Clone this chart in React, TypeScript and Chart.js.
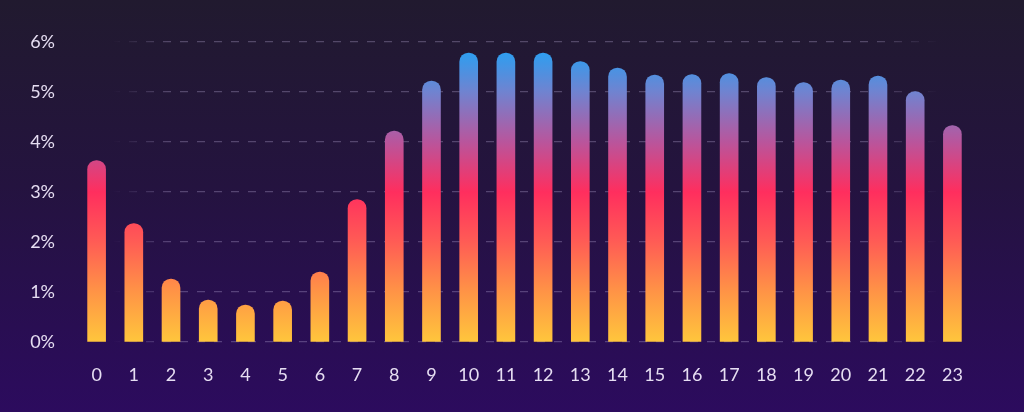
import { useEffect, useRef } from "react";
import Chart from "chart.js/auto";

const hours = ["0","1","2","3","4","5","6","7","8","9","10","11","12","13","14","15","16","17","18","19","20","21","22","23"];
const shares = [3.63, 2.37, 1.26, 0.84, 0.74, 0.82, 1.4, 2.85, 4.22, 5.22, 5.78, 5.78, 5.78, 5.61, 5.48, 5.34, 5.35, 5.37, 5.29, 5.19, 5.24, 5.32, 5.01, 4.33];
const yTicks = [0, 1, 2, 3, 4, 5, 6];

// colour stops for the bar fill, by value on the y axis
const stopValues = [0, 1, 2, 3.0, 4, 5, 5.8];
const stopColors = ["#ffc63c", "#ff9446", "#ff5c55", "#ff2e5e", "#b9559c", "#7083d0", "#2d9ef0"];

export default function App() {
    const chartRef = useRef<HTMLCanvasElement | null>(null);
    const chartInstanceRef = useRef<Chart | null>(null);

    useEffect(() => {
        if (chartInstanceRef.current) {
            chartInstanceRef.current.destroy();
        }
        if (!chartRef.current) return;

        const ctx = chartRef.current.getContext("2d");
        if (!ctx) return;

        const barFill = (context: any) => {
            const chart = context.chart;
            const area = chart.chartArea;
            if (!area) return stopColors[0];
            const y = chart.scales.y;
            const g = chart.ctx.createLinearGradient(0, y.getPixelForValue(0), 0, y.getPixelForValue(5.8));
            stopValues.forEach((v, i) => g.addColorStop(v / 5.8, stopColors[i]));
            return g;
        };

        const gridColor = (context: any) => {
            const chart = context.chart;
            const area = chart.chartArea;
            if (!area) return "rgba(200,180,230,0.3)";
            const g = chart.ctx.createLinearGradient(112, 0, 940, 0);
            g.addColorStop(0, "rgba(200,185,230,0)");
            g.addColorStop(0.07, "rgba(200,185,230,0.3)");
            g.addColorStop(0.92, "rgba(200,185,230,0.3)");
            g.addColorStop(1, "rgba(200,185,230,0)");
            return g;
        };

        chartInstanceRef.current = new Chart(ctx, {
            type: "bar",
            data: {
                labels: hours,
                datasets: [{
                    data: shares,
                    backgroundColor: barFill,
                    barThickness: 18,
                    borderRadius: { topLeft: 9, topRight: 9, bottomLeft: 0, bottomRight: 0 },
                    borderSkipped: false,
                }],
            },
            options: {
                animation: false,
                responsive: true,
                maintainAspectRatio: false,
                layout: { padding: { left: 0, right: 53, top: 42, bottom: 0 } },
                plugins: {
                    legend: { display: false },
                    tooltip: { enabled: false },
                },
                scales: {
                    x: {
                        grid: { display: false },
                        border: { display: false },
                        afterFit: (axis: any) => { axis.height = 70; },
                        ticks: {
                            color: "#e6def2",
                            padding: 14,
                            maxRotation: 0,
                            font: { family: "Lato", size: 18 },
                        },
                    },
                    y: {
                        min: 0,
                        max: 6,
                        afterFit: (axis: any) => { axis.width = 78; },
                        afterBuildTicks: (axis: any) => { axis.ticks = yTicks.map((v) => ({ value: v })); },
                        border: { display: false, dash: [8, 9] },
                        grid: {
                            color: gridColor,
                            lineWidth: 1.3,
                            drawTicks: false,
                        },
                        ticks: {
                            color: "#e6def2",
                            padding: 23,
                            font: { family: "Lato", size: 18 },
                            callback: (v: any) => v + "%",
                        },
                    },
                },
            },
        });

        return () => {
            if (chartInstanceRef.current) {
                chartInstanceRef.current.destroy();
            }
        };
    }, []);

    return (
        <div style={{
            position: "fixed", left: 0, top: 0, width: 1024, height: 412,
            background: "linear-gradient(180deg, #211a2f 0%, #24133f 45%, #2c0b5e 100%)",
        }}>
            <canvas ref={chartRef} />
        </div>
    );
}
